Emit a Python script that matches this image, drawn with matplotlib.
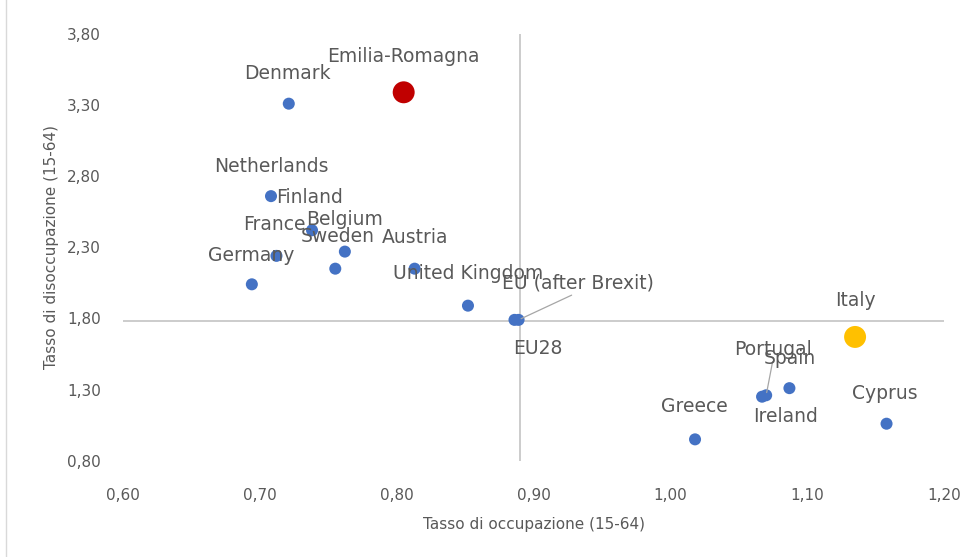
import matplotlib.pyplot as plt
from matplotlib.lines import Line2D
from matplotlib.ticker import FuncFormatter

# rapporto regione/paese rispetto alla media EU
paesi = ['Denmark', 'Emilia-Romagna', 'Netherlands', 'Finland', 'France',
         'Belgium', 'Sweden', 'Austria', 'Germany', 'United Kingdom', 'EU28',
         'EU (after Brexit)', 'Greece', 'Ireland', 'Portugal', 'Spain',
         'Cyprus', 'Italy']
occupazione = [0.721, 0.805, 0.708, 0.738, 0.712, 0.762, 0.755, 0.813, 0.694,
               0.852, 0.886, 0.889, 1.018, 1.067, 1.070, 1.087, 1.158, 1.135]
disoccupazione = [3.31, 3.39, 2.66, 2.42, 2.24, 2.27, 2.15, 2.15, 2.04, 1.89,
                  1.79, 1.79, 0.95, 1.25, 1.26, 1.31, 1.06, 1.67]

x_ticks = [0.60, 0.70, 0.80, 0.90, 1.00, 1.10, 1.20]
y_ticks = [0.80, 1.30, 1.80, 2.30, 2.80, 3.30, 3.80]

# incrocio degli assi
cross_x = 0.89
cross_y = 1.78

grey = '#595959'
colori = {'Emilia-Romagna': '#C00000', 'Italy': '#FFC000'}
# spostamento etichette in pixel (dx, dy)
offs = {'Denmark': (-1, 30), 'Emilia-Romagna': (0, 36), 'Netherlands': (0, 30),
        'Finland': (-2, 33), 'France': (-2, 31), 'Belgium': (0, 32),
        'Sweden': (2, 32), 'Austria': (0, 31), 'Germany': (-1, 29),
        'United Kingdom': (0, 32), 'EU28': (23, -29),
        'EU (after Brexit)': (59, 37), 'Greece': (-1, 33), 'Ireland': (24, -20),
        'Portugal': (7, 46), 'Spain': (0, 30), 'Cyprus': (-2, 30),
        'Italy': (0, 36)}
leader = ['EU (after Brexit)', 'Portugal']

fig = plt.figure(figsize=(9.76, 5.57), dpi=100)
ax = fig.add_axes([0.1263, 0.1729, 0.9672 - 0.1263, 0.9390 - 0.1729])

ax.axvline(cross_x, color='#BFBFBF', lw=1.1, zorder=1)
ax.axhline(cross_y, color='#BFBFBF', lw=1.1, zorder=1)

for p, x, y in zip(paesi, occupazione, disoccupazione):
    c = colori.get(p, '#4472C4')
    s = 250 if p in colori else 75
    ax.scatter(x, y, s=s, color=c, edgecolors='none', zorder=3)
    dx, dy = offs[p]
    ap = None
    if p in leader:
        ap = dict(arrowstyle='-', color='#A6A6A6', lw=0.9,
                  shrinkA=0, shrinkB=2, relpos=(0.5, 0.0))
    ax.annotate(p, (x, y), xytext=(dx, dy), textcoords='offset pixels',
                ha='center', va='center', fontsize=13.5, color=grey,
                family='DejaVu Sans', arrowprops=ap, zorder=4)

ax.set_xlim(x_ticks[0], x_ticks[-1])
ax.set_ylim(y_ticks[0], y_ticks[-1])
ax.set_xticks(x_ticks)
ax.set_yticks(y_ticks)
fmt = FuncFormatter(lambda v, pos: f'{v:.2f}'.replace('.', ','))
ax.xaxis.set_major_formatter(fmt)
ax.yaxis.set_major_formatter(fmt)
ax.tick_params(length=0, labelsize=11, labelcolor=grey)
ax.tick_params(axis='x', pad=20)
ax.tick_params(axis='y', pad=16)
for sp in ax.spines.values():
    sp.set_visible(False)

ax.set_xlabel('Tasso di occupazione (15-64)', fontsize=11, color=grey,
              labelpad=10)
ax.set_ylabel('Tasso di disoccupazione (15-64)', fontsize=11, color=grey,
              labelpad=6)

# bordo del grafico a sinistra
fig.add_artist(Line2D([6 / 976, 6 / 976], [0, 1], transform=fig.transFigure,
                      color='#D9D9D9', lw=1))

fig.savefig('out.png', dpi=100)
